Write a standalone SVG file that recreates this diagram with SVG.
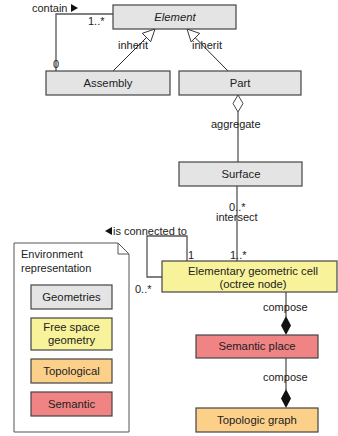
<svg xmlns="http://www.w3.org/2000/svg" width="338" height="436" viewBox="0 0 338 436">
<style>
text{font-family:"Liberation Sans",Arial,sans-serif;fill:#222;}
.n{font-size:11.3px;text-anchor:middle;}
.l{font-size:11px;}
.box{stroke:#444;stroke-width:1.2;}
.g{fill:#e4e4e4;}
.y{fill:#f8f29a;}
.o{fill:#fdd08a;}
.r{fill:#f08484;}
.c{fill:none;stroke:#555;stroke-width:1.3;}
.t{fill:none;stroke:#111;stroke-width:0.9;}
.h{fill:#fff;stroke:#222;stroke-width:0.9;}
</style>
<g id="connectors">
<polyline class="c" points="56,71 56,14 113,14"/>
<text class="l" x="32" y="12">contain</text>
<polygon points="71,4 78,8 71,12" fill="#111"/>
<text class="l" x="88" y="25">1..*</text>
<text class="l" x="53" y="68">0</text>
<line class="t" x1="113" y1="71" x2="147" y2="37"/>
<polygon class="h" points="155,29 150.7,41.7 142.3,33.3"/>
<text class="l" x="118" y="49">inherit</text>
<line class="t" x1="228" y1="71" x2="195" y2="37.5"/>
<polygon class="h" points="187,29 199.7,33.4 191.1,41.8"/>
<text class="l" x="192" y="49">inherit</text>
<line class="c" x1="238" y1="112" x2="238" y2="162"/>
<polygon points="238,95 243,103.5 238,112 233,103.5" fill="#fff" stroke="#444" stroke-width="1"/>
<text class="l" x="211" y="128">aggregate</text>
<line class="c" x1="237" y1="186" x2="237" y2="261"/>
<text class="l" x="229" y="211">0..*</text>
<text class="l" x="216" y="221">intersect</text>
<polyline class="c" points="187,261 187,236 147,236 147,277 162,277"/>
<polygon points="112,227 105,231 112,235" fill="#111"/>
<text class="l" x="113" y="235">is connected to</text>
<text class="l" x="188" y="259">1</text>
<text class="l" x="230" y="259">1..*</text>
<text class="l" x="135" y="293">0..*</text>
<line class="c" x1="286" y1="292" x2="286" y2="317"/>
<polygon points="286,316 291,325.5 286,335 281,325.5" fill="#111"/>
<text class="l" x="263" y="311">compose</text>
<line class="c" x1="286" y1="358" x2="286" y2="390"/>
<polygon points="286,389 291,398.5 286,408 281,398.5" fill="#111"/>
<text class="l" x="263" y="381">compose</text>
</g>
<g id="Element">
<rect class="box g" x="113" y="5" width="123" height="24"/>
<text class="n" x="175" y="21" font-style="italic">Element</text>
</g>
<g id="Assembly">
<rect class="box g" x="46" y="71" width="124" height="24"/>
<text class="n" x="108" y="87">Assembly</text>
</g>
<g id="Part">
<rect class="box g" x="179" y="71" width="122" height="24"/>
<text class="n" x="240" y="87">Part</text>
</g>
<g id="Surface">
<rect class="box g" x="179" y="162" width="123" height="24"/>
<text class="n" x="241" y="178">Surface</text>
</g>
<g id="Cell">
<rect class="box y" x="162" y="261" width="175" height="31"/>
<text class="n" x="253" y="275">Elementary geometric cell</text>
<text class="n" x="253" y="288">(octree node)</text>
</g>
<g id="SemanticPlace">
<rect class="box r" x="196" y="335" width="122" height="23"/>
<text class="n" x="257" y="350">Semantic place</text>
</g>
<g id="TopologicGraph">
<rect class="box o" x="196" y="408" width="122" height="24"/>
<text class="n" x="257" y="424">Topologic graph</text>
</g>
<g id="Legend">
<path d="M14,243 L118,243 L129,254 L129,432 L14,432 Z" fill="#fff" stroke="#555" stroke-width="1"/>
<path d="M118,243 L118,254 L129,254" fill="none" stroke="#555" stroke-width="1"/>
<text class="l" x="21" y="258">Environment</text>
<text class="l" x="21" y="272">representation</text>
<rect class="box g" x="31" y="285" width="81" height="24"/>
<text class="n" x="71.5" y="301">Geometries</text>
<rect class="box y" x="31" y="318" width="81" height="32"/>
<text class="n" x="71.5" y="331">Free space</text>
<text class="n" x="71.5" y="344">geometry</text>
<rect class="box o" x="31" y="359" width="81" height="24"/>
<text class="n" x="71.5" y="375">Topological</text>
<rect class="box r" x="31" y="392" width="81" height="24"/>
<text class="n" x="71.5" y="408">Semantic</text>
</g>
</svg>
